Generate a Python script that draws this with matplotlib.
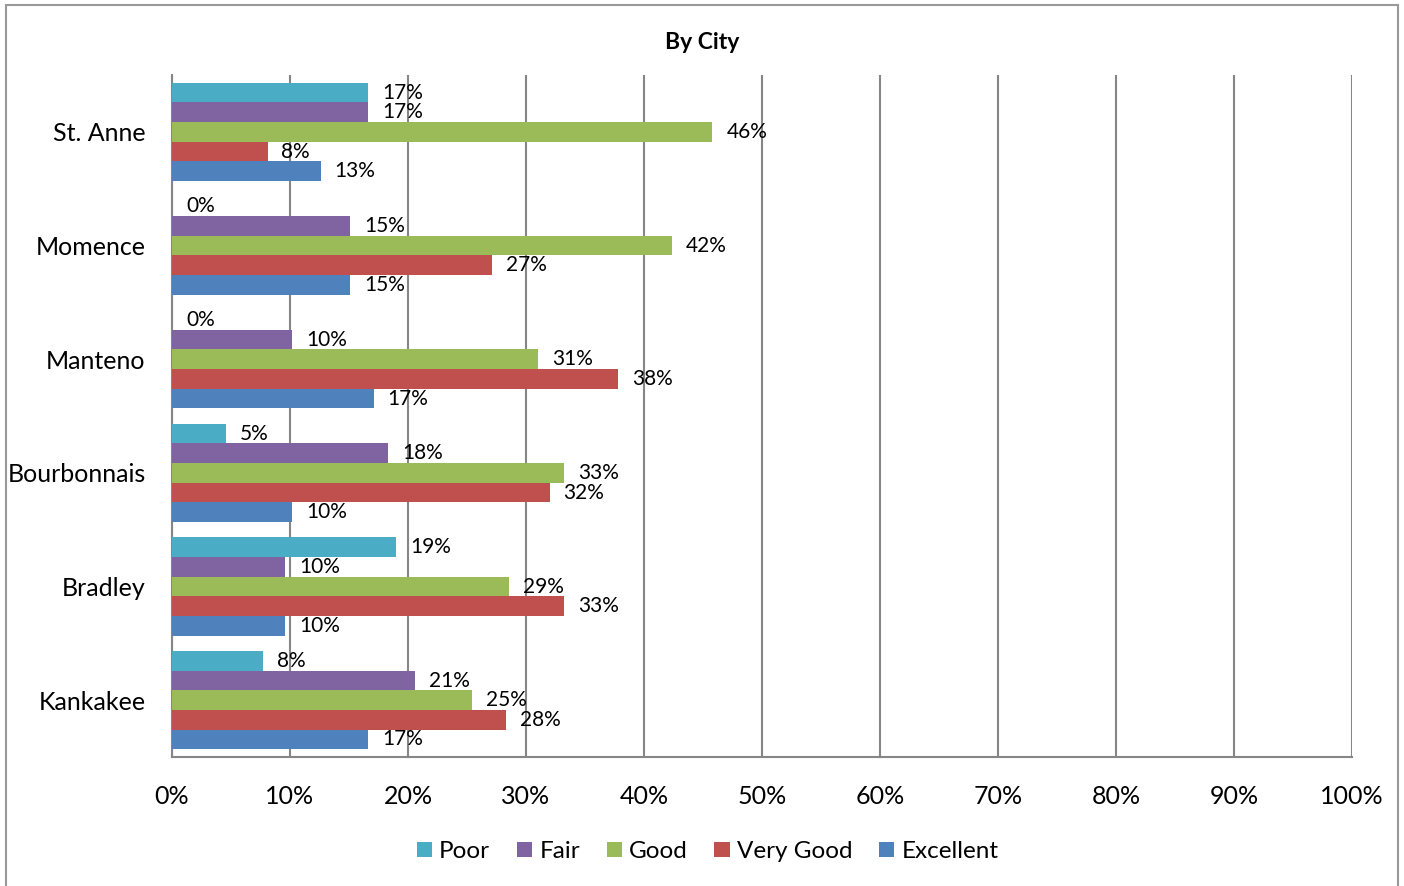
import matplotlib.pyplot as plt
import numpy as np
from matplotlib.patches import Rectangle

plt.rcParams['font.family'] = ['Lato', 'DejaVu Sans']

cities = ["Kankakee", "Bradley", "Bourbonnais", "Manteno", "Momence", "St. Anne"]
series = ["Poor", "Fair", "Good", "Very Good", "Excellent"]
colors = ["#4BACC6", "#8064A2", "#9BBB59", "#C0504D", "#4F81BD"]

# values in %, one list per rating, order follows cities
poor      = [7.7, 19.0, 4.6, 0.0, 0.0, 16.6]
fair      = [20.6, 9.6, 18.3, 10.2, 15.1, 16.6]
good      = [25.4, 28.6, 33.2, 31.0, 42.4, 45.8]
very_good = [28.3, 33.2, 32.0, 37.8, 27.1, 8.1]
excellent = [16.6, 9.6, 10.2, 17.1, 15.1, 12.6]
values = [poor, fair, good, very_good, excellent]

fig = plt.figure(figsize=(14.04, 8.86), dpi=100)
ax = fig.add_axes([0.1225, 0.1456, 0.8405, 0.7697])

y = np.arange(len(cities))
h = 0.173
for k, (name, vals, c) in enumerate(zip(series, values, colors)):
    pos = y + (2 - k) * h
    ax.barh(pos, vals, height=h, color=c, label=name, zorder=3)
    for p, v in zip(pos, vals):
        ax.annotate(f"{v:.0f}%", (v, p), xytext=(10, 0), textcoords="offset points",
                    ha="left", va="center", fontsize=15, zorder=4)

ax.set_xlim(0, 100)
ax.set_ylim(-0.5, len(cities) - 0.5)
ax.set_xticks(np.arange(0, 101, 10))
ax.set_xticklabels([f"{t}%" for t in range(0, 101, 10)], fontsize=18)
ax.set_yticks(y)
ax.set_yticklabels(cities, fontsize=18)
ax.tick_params(axis="x", length=0, pad=20)
ax.tick_params(axis="y", length=0, pad=19)
ax.grid(axis="x", color="#868686", lw=1.5, zorder=1)
for s in ["top", "right"]:
    ax.spines[s].set_visible(False)
for s in ["left", "bottom"]:
    ax.spines[s].set_color("#868686")
    ax.spines[s].set_linewidth(1.5)

fig.text(0.5, 0.952, "By City", ha="center", va="center", fontsize=16.5, fontweight="bold")

fig.legend(*ax.get_legend_handles_labels(), loc="center", bbox_to_anchor=(0.504, 0.039),
           bbox_transform=fig.transFigure, ncol=5, frameon=False, fontsize=17.5,
           handlelength=0.62, handleheight=0.62, handletextpad=0.3, columnspacing=1.1)

fig.patches.append(Rectangle((0.0043, -0.1), 0.9914, 1.0944, transform=fig.transFigure,
                             fill=False, edgecolor="#999999", lw=1.5))

fig.savefig("out.png", dpi=100)
